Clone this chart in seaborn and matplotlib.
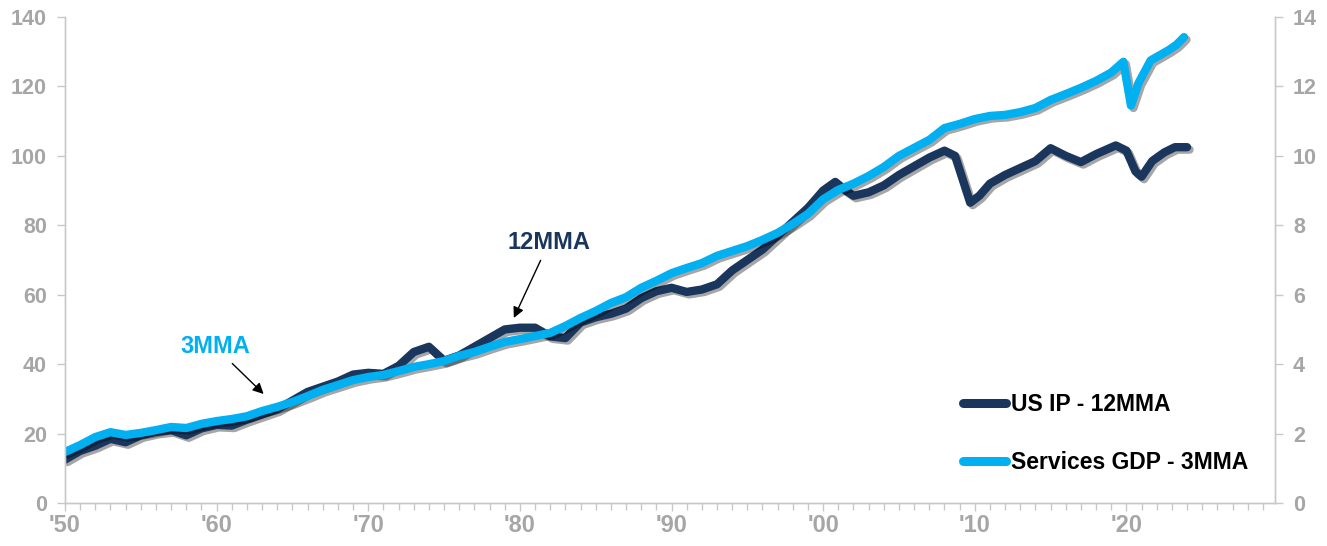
import matplotlib
matplotlib.use("Agg")
import matplotlib.pyplot as plt
import matplotlib.patheffects as pe
from matplotlib.ticker import MultipleLocator
import numpy as np
import pandas as pd
import seaborn as sns

# US industrial production index, 12-month moving average (left axis)
ip_years = [1950, 1951, 1952, 1953, 1954, 1955, 1956, 1957, 1958, 1959,
            1960, 1961, 1962, 1963, 1964, 1965, 1966, 1967, 1968, 1969,
            1970, 1971, 1972, 1973, 1974, 1975, 1976, 1977, 1978, 1979,
            1980, 1981, 1982, 1983, 1984, 1985, 1986, 1987, 1988, 1989,
            1990, 1991, 1992, 1993, 1994, 1995, 1996, 1997, 1998, 1999,
            2000, 2000.8, 2001.5, 2002, 2003, 2004, 2005, 2006, 2007, 2008,
            2008.7, 2009.7, 2010.3, 2011, 2012, 2013, 2014, 2015, 2016, 2017,
            2018, 2019.3, 2020, 2020.6, 2021, 2021.7, 2022.5, 2023.2, 2024]
ip_values = [12.5, 15.0, 16.5, 18.5, 17.5, 19.5, 20.5, 21.0, 19.5, 21.5,
             22.5, 22.3, 24.0, 25.5, 27.0, 29.5, 32.0, 33.5, 35.0, 37.0,
             37.5, 37.2, 39.5, 43.5, 45.0, 41.0, 42.5, 45.0, 47.5, 50.0,
             50.5, 50.5, 48.0, 47.5, 52.0, 53.5, 54.5, 56.0, 59.0, 61.0,
             62.0, 60.8, 61.5, 63.0, 67.0, 70.0, 73.0, 77.0, 81.0, 85.0,
             90.0, 92.5, 90.0, 88.5, 89.5, 91.5, 94.5, 97.0, 99.5, 101.5,
             100.0, 86.5, 88.5, 92.0, 94.5, 96.5, 98.5, 102.2, 100.0, 98.2,
             100.5, 103.0, 101.5, 95.5, 94.0, 98.5, 101.0, 102.5, 102.5]

# Real services GDP, 3-month moving average (right axis)
gdp_years = [1950, 1951, 1952, 1953, 1954, 1955, 1956, 1957, 1958, 1959,
             1960, 1961, 1962, 1963, 1964, 1965, 1966, 1967, 1968, 1969,
             1970, 1971, 1972, 1973, 1974, 1975, 1976, 1977, 1978, 1979,
             1980, 1981, 1982, 1983, 1984, 1985, 1986, 1987, 1988, 1989,
             1990, 1991, 1992, 1993, 1994, 1995, 1996, 1997, 1998, 1999,
             2000, 2001, 2002, 2003, 2004, 2005, 2006, 2007, 2008, 2009,
             2010, 2011, 2012, 2013, 2014, 2015, 2016, 2017, 2018, 2019,
             2019.8, 2020.3, 2020.8, 2021.6, 2022.2, 2022.8, 2023.3, 2023.8]
gdp_values = [1.47, 1.67, 1.90, 2.04, 1.96, 2.02, 2.10, 2.19, 2.16, 2.28,
              2.36, 2.42, 2.50, 2.65, 2.77, 2.91, 3.08, 3.26, 3.40, 3.54,
              3.63, 3.69, 3.80, 3.92, 4.00, 4.09, 4.24, 4.35, 4.50, 4.64,
              4.72, 4.81, 4.90, 5.10, 5.33, 5.53, 5.76, 5.93, 6.20, 6.40,
              6.62, 6.77, 6.91, 7.12, 7.26, 7.40, 7.58, 7.78, 8.04, 8.33,
              8.75, 9.02, 9.20, 9.42, 9.68, 10.00, 10.23, 10.46, 10.80, 10.92,
              11.06, 11.15, 11.18, 11.26, 11.38, 11.61, 11.78, 11.96, 12.16, 12.40,
              12.71, 11.45, 12.10, 12.75, 12.90, 13.05, 13.20, 13.42]

ip_label = "US IP - 12MMA"
gdp_label = "Services GDP - 3MMA"
x_tick_years = [1950, 1960, 1970, 1980, 1990, 2000, 2010, 2020]
x_tick_labels = ["'50", "'60", "'70", "'80", "'90", "'00", "'10", "'20"]

NAVY = "#1b365d"
CYAN = "#00b0f0"
GREY = "#a6a6a6"
SPINE = "#c8c8c8"

sns.set_theme(style="white")
plt.rcParams["font.family"] = ["Liberation Sans", "DejaVu Sans"]
plt.rcParams["font.weight"] = "bold"

fig = plt.figure(figsize=(13.27, 5.46), dpi=100)
ax = fig.add_axes([65 / 1327, 43 / 546, 1210 / 1327, 486 / 546])
ax2 = ax.twinx()

shadow = [pe.SimpleLineShadow(offset=(1.8, -1.8), shadow_color="black", alpha=0.35),
          pe.Normal()]

ip_df = pd.DataFrame({"year": ip_years, "value": ip_values})
gdp_df = pd.DataFrame({"year": gdp_years, "value": gdp_values})

sns.lineplot(data=ip_df, x="year", y="value", ax=ax, color=NAVY, lw=6,
             solid_capstyle="round", solid_joinstyle="round", path_effects=shadow,
             legend=False)
sns.lineplot(data=gdp_df, x="year", y="value", ax=ax2, color=CYAN, lw=6,
             solid_capstyle="round", solid_joinstyle="round", path_effects=shadow,
             legend=False)

ax.set_xlim(1950, 2029.8)
ax.set_ylim(0, 140)
ax2.set_ylim(0, 14)
ax.set_xlabel("")
ax.set_ylabel("")
ax2.set_ylabel("")

ax.yaxis.set_major_locator(MultipleLocator(20))
ax2.yaxis.set_major_locator(MultipleLocator(2))
ax.set_xticks(x_tick_years)
ax.set_xticklabels(x_tick_labels)
ax.xaxis.set_minor_locator(MultipleLocator(1))

for a in (ax, ax2):
    a.spines["top"].set_visible(False)
    for side in ("left", "right", "bottom"):
        a.spines[side].set_color(SPINE)
        a.spines[side].set_linewidth(1.0)

ax.tick_params(axis="y", which="major", direction="out", length=6, width=1,
               color=SPINE, labelcolor=GREY, labelsize=15.5, pad=7, left=True)
ax2.tick_params(axis="y", which="major", direction="out", length=6, width=1,
                color=SPINE, labelcolor=GREY, labelsize=15.5, pad=7, right=True)
ax.tick_params(axis="x", which="major", direction="out", length=6, width=1,
               color=SPINE, labelcolor=GREY, labelsize=17, pad=2, bottom=True)
ax.tick_params(axis="x", which="minor", direction="out", length=5, width=1,
               color=SPINE, bottom=True)
for lab in ax.get_xticklabels() + ax.get_yticklabels() + ax2.get_yticklabels():
    lab.set_fontweight("bold")

# Series call-outs
ax2.annotate("12MMA", xy=(1979.6, 5.33), xytext=(1981.9, 7.49),
             ha="center", va="center", fontsize=17, fontweight="bold", color=NAVY,
             arrowprops=dict(arrowstyle="-|>", color="black", lw=1.0,
                             mutation_scale=16, shrinkA=2, shrinkB=0))
ax2.annotate("3MMA", xy=(1963.1, 3.14), xytext=(1959.9, 4.50),
             ha="center", va="center", fontsize=17, fontweight="bold", color=CYAN,
             arrowprops=dict(arrowstyle="-|>", color="black", lw=1.0,
                             mutation_scale=16, shrinkA=2, shrinkB=0))

handles = [plt.Line2D([], [], color=NAVY, lw=6.5, solid_capstyle="round"),
           plt.Line2D([], [], color=CYAN, lw=6.5, solid_capstyle="round")]
leg = ax2.legend(handles, [ip_label, gdp_label], loc="center left",
                 bbox_to_anchor=(0.742, 0.143), frameon=False,
                 prop={"weight": "bold", "size": 16.5},
                 handlelength=1.9, handletextpad=0.2, labelspacing=1.55,
                 borderpad=0, borderaxespad=0)
for t in leg.get_texts():
    t.set_color("black")

fig.savefig("out.png", dpi=100, facecolor="white")
